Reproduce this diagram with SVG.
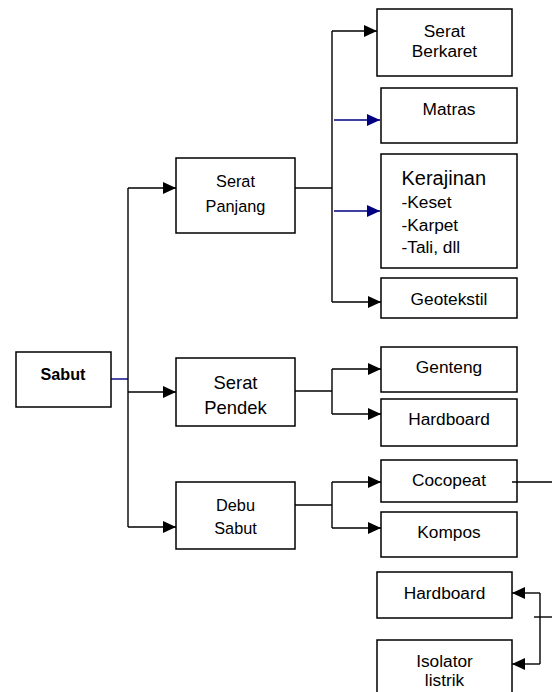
<svg xmlns="http://www.w3.org/2000/svg" width="552" height="692" viewBox="0 0 552 692">
<style>
.box{fill:#fff;stroke:#000;stroke-width:1.5}
.t{font-family:"Liberation Sans",Arial,sans-serif;font-size:17.3px;fill:#000;text-anchor:middle}
.c{fill:none;stroke:#000;stroke-width:1.4}
.n{fill:none;stroke:#000080;stroke-width:1.4}
</style>
<defs>
<marker id="ab" markerUnits="userSpaceOnUse" markerWidth="13" markerHeight="12" refX="13" refY="6" orient="auto"><path d="M0,0 L13,6 L0,12 z" fill="#000"/></marker>
<marker id="an" markerUnits="userSpaceOnUse" markerWidth="13" markerHeight="12" refX="13" refY="6" orient="auto"><path d="M0,0 L13,6 L0,12 z" fill="#000080"/></marker>
</defs>
<g id="connectors">
<path class="n" d="M111,379 H128"/>
<path class="c" d="M128,188 V527"/>
<path class="c" d="M128,188 H176" marker-end="url(#ab)"/>
<path class="c" d="M128,392 H176" marker-end="url(#ab)"/>
<path class="c" d="M128,527 H176" marker-end="url(#ab)"/>
<path class="c" d="M295,188 H332"/>
<path class="c" d="M332,31 V302"/>
<path class="c" d="M332,31 H377" marker-end="url(#ab)"/>
<path class="n" d="M334,120 H380" marker-end="url(#an)"/>
<path class="n" d="M334,211 H380" marker-end="url(#an)"/>
<path class="c" d="M332,302 H381" marker-end="url(#ab)"/>
<path class="c" d="M295,391 H332"/>
<path class="c" d="M332,369 V414"/>
<path class="c" d="M332,369 H381" marker-end="url(#ab)"/>
<path class="c" d="M332,414 H381" marker-end="url(#ab)"/>
<path class="c" d="M295,505 H332"/>
<path class="c" d="M332,482 V528"/>
<path class="c" d="M332,482 H381" marker-end="url(#ab)"/>
<path class="c" d="M332,528 H381" marker-end="url(#ab)"/>
<path class="c" d="M540,593 V664"/>
<path class="c" d="M540,593 H512" marker-end="url(#ab)"/>
<path class="c" d="M540,664 H512" marker-end="url(#ab)"/>
<path class="c" d="M534,617 H552"/>
</g>
<g id="sabut"><rect class="box" x="16" y="352" width="95" height="55"/><text class="t" x="63" y="380" style="font-weight:bold;font-size:16.2px">Sabut</text></g>
<g id="serat-panjang"><rect class="box" x="176" y="158" width="119" height="75"/><text class="t" x="235.5" y="187" style="font-size:16.3px">Serat</text><text class="t" x="235.5" y="212" style="font-size:16.3px">Panjang</text></g>
<g id="serat-pendek"><rect class="box" x="176" y="358" width="119" height="68"/><text class="t" x="235.5" y="389" style="font-size:18.4px">Serat</text><text class="t" x="235.5" y="414" style="font-size:18.4px">Pendek</text></g>
<g id="debu-sabut"><rect class="box" x="176" y="482" width="119" height="67"/><text class="t" x="235.5" y="511" style="font-size:16.3px">Debu</text><text class="t" x="235.5" y="534" style="font-size:16.3px">Sabut</text></g>
<g id="serat-berkaret"><rect class="box" x="377" y="9" width="135" height="67"/><text class="t" x="444.5" y="36.5">Serat</text><text class="t" x="444.5" y="56.5">Berkaret</text></g>
<g id="matras"><rect class="box" x="381" y="88" width="136" height="55"/><text class="t" x="449" y="115">Matras</text></g>
<g id="kerajinan"><rect class="box" x="381" y="154" width="136" height="114"/><text class="t" x="401.5" y="185" style="text-anchor:start;font-size:20px">Kerajinan</text><text class="t" x="401.5" y="208" style="text-anchor:start">-Keset</text><text class="t" x="401.5" y="231" style="text-anchor:start">-Karpet</text><text class="t" x="401.5" y="253" style="text-anchor:start">-Tali, dll</text></g>
<g id="geotekstil"><rect class="box" x="381" y="278" width="136" height="40"/><text class="t" x="449" y="305">Geotekstil</text></g>
<g id="genteng"><rect class="box" x="381" y="347" width="136" height="45"/><text class="t" x="449" y="373">Genteng</text></g>
<g id="hardboard-1"><rect class="box" x="381" y="399" width="136" height="47"/><text class="t" x="449" y="425">Hardboard</text></g>
<g id="cocopeat"><rect class="box" x="381" y="460" width="136" height="42"/><text class="t" x="449" y="486">Cocopeat</text></g>
<g id="kompos"><rect class="box" x="381" y="512" width="136" height="45"/><text class="t" x="449" y="538">Kompos</text></g>
<g id="hardboard-2"><rect class="box" x="377" y="572" width="135" height="46"/><text class="t" x="444.5" y="599">Hardboard</text></g>
<g id="isolator"><rect class="box" x="377" y="640" width="135" height="60"/><text class="t" x="444.5" y="667">Isolator</text><text class="t" x="444.5" y="686">listrik</text></g>
<path class="c" d="M512,482 H552"/>
</svg>
